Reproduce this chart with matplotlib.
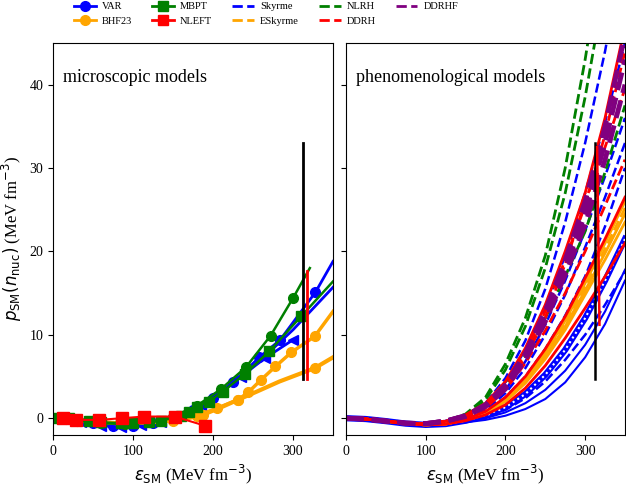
import matplotlib
matplotlib.use('Agg')
from matplotlib import pyplot as plt
from matplotlib.lines import Line2D

# ---- microscopic models (left panel) ----
var_a_e = [5, 25, 50, 75, 100, 125, 150, 175, 200, 225, 258, 284, 328, 350]
var_a_p = [0.0, -0.2, -0.6, -0.9, -0.9, -0.6, 0.0, 1.0, 2.4, 4.3, 7.3, 9.4, 15.1, 18.8]
var_b_e = [10, 35, 60, 85, 110, 135, 160, 185, 210, 235, 265, 300]
var_b_p = [-0.1, -0.5, -0.9, -1.0, -0.8, -0.4, 0.4, 1.6, 3.2, 5.0, 7.2, 9.4]
var_c_e = [0, 30, 60, 90, 120, 150, 180, 210, 240, 270, 300, 350]
var_c_p = [0.0, -0.4, -0.9, -1.0, -0.6, 0.1, 1.3, 3.1, 5.3, 7.9, 10.6, 15.7]

bhf_a_e = [0, 30, 60, 90, 120, 150, 180, 205, 231, 244, 260, 278, 298, 327, 350]
bhf_a_p = [0.0, -0.2, -0.5, -0.6, -0.5, -0.3, 0.3, 1.2, 2.2, 3.1, 4.6, 6.2, 7.9, 9.8, 12.8]
bhf_b_e = [0, 40, 80, 120, 160, 187, 210, 231, 255, 283, 305, 327, 350]
bhf_b_p = [0.0, -0.3, -0.6, -0.5, -0.2, 0.4, 1.3, 2.2, 3.2, 4.4, 5.2, 6.0, 7.3]

mbpt_a_e = [0, 30, 60, 90, 120, 150, 180, 210, 241, 272, 300, 321]
mbpt_a_p = [0.0, -0.3, -0.6, -0.7, -0.5, 0.2, 1.5, 3.5, 6.1, 9.9, 14.4, 18.0]
mbpt_b_e = [0, 20, 45, 60, 85, 100, 120, 135, 160, 170, 180, 195, 212, 240, 270, 310, 350]
mbpt_b_p = [0.0, 0.0, -0.3, -0.5, -0.6, -0.6, -0.5, -0.3, 0.3, 0.8, 1.4, 2.0, 3.2, 5.3, 8.0, 12.2, 16.4]

nleft_e = [13, 29, 58, 86, 114, 152, 190]
nleft_p = [0.0, -0.2, -0.2, 0.0, 0.2, 0.2, -0.9]

# ---- phenomenological models (right panel), common energy grid ----
grid_e = [0, 25, 50, 75, 100, 125, 150, 175, 200, 225, 250, 275, 300, 325, 350]
low_stiff = [0.0, -0.1, -0.35, -0.6, -0.65, -0.35]
low_soft = [0.0, -0.1, -0.35, -0.65, -0.8, -0.7]

nlrh_1 = [0.5, 2.5, 6.5, 12.0, 19.5, 30.0, 43.0, 58.0, 75.0]
nlrh_2 = [0.4, 2.2, 5.8, 11.0, 18.0, 27.0, 38.5, 52.0, 68.0]
nlrh_3 = [0.1, 1.3, 3.8, 7.5, 12.0, 17.0, 22.4, 29.5, 37.5]

sky_1 = [0.3, 1.8, 4.8, 9.3, 15.5, 23.5, 33.0, 44.0, 57.0]
sky_2 = [0.0, 1.0, 3.0, 6.0, 10.0, 14.8, 20.5, 26.5, 33.0]
sky_3 = [-0.1, 0.8, 2.5, 5.0, 8.3, 12.3, 17.0, 23.0, 30.0]
sky_4 = [-0.4, 0.1, 1.0, 2.4, 4.4, 7.0, 10.0, 13.6, 17.6]
sky_5 = [0.2, 1.6, 4.3, 8.2, 13.2, 19.5, 27.0, 35.5, 45.0]
sky_6 = [0.0, 1.1, 3.4, 6.8, 11.2, 16.5, 22.5, 29.0, 36.0]

ddrhf_1 = [0.3, 1.5, 3.8, 7.4, 12.3, 18.0, 24.5, 33.0, 43.0]
ddrhf_2 = [0.3, 1.6, 4.0, 7.8, 12.9, 19.0, 26.0, 35.0, 46.0]
ddrhf_3 = [0.2, 1.4, 3.5, 7.0, 11.6, 17.2, 23.2, 31.0, 40.0]

ddrh_1 = [0.3, 1.6, 4.0, 7.8, 12.8, 19.0, 25.5, 34.0, 44.0]
ddrh_2 = [0.2, 1.4, 3.7, 7.3, 12.0, 18.5, 26.0, 32.5, 39.5]
ddrh_3 = [0.1, 1.2, 3.4, 6.6, 10.5, 15.0, 20.0, 25.5, 31.0]

red_1 = [0.4, 1.8, 4.4, 8.4, 13.6, 20.0, 27.0, 36.0, 47.0]
red_2 = [-0.1, 0.8, 2.5, 5.0, 8.3, 12.2, 16.8, 21.5, 26.5]
red_3 = [-0.3, 0.4, 1.6, 3.6, 6.3, 9.6, 13.2, 17.0, 21.0]

esky_1 = [-0.1, 0.7, 2.3, 4.7, 7.9, 11.7, 16.2, 21.0, 26.0]
esky_2 = [-0.2, 0.6, 2.1, 4.4, 7.4, 11.0, 15.3, 19.8, 24.5]
esky_3 = [-0.2, 0.5, 2.0, 4.2, 7.1, 10.6, 14.8, 19.0, 23.5]
esky_4 = [-0.1, 0.6, 2.2, 4.5, 7.6, 11.3, 15.7, 20.3, 25.2]

blue_1 = [-0.5, -0.2, 0.3, 1.1, 2.3, 4.3, 7.3, 11.3, 16.5]
blue_2 = [-0.4, 0.0, 0.7, 1.8, 3.4, 5.7, 8.8, 12.8, 17.8]
blue_band = [-0.3, 0.3, 1.3, 2.9, 5.2, 8.2, 12.0, 16.5, 21.5]

# vertical bars (e, p_low, p_high)
bar_left_black = (313, 4.7, 33.0)
bar_left_red = (318, 4.7, 17.6)
bar_right_black = (312, 4.7, 33.0)
bar_right_red = ([315, 318], [32.5, 11.2])

plt.rcParams['font.family'] = ['Liberation Serif', 'DejaVu Sans']
plt.rcParams['mathtext.fontset'] = 'dejavusans'

fig = plt.figure(figsize=(6.26, 4.87), dpi=100)
ax1 = fig.add_axes([0.0847, 0.107, 0.4473, 0.805])
ax2 = fig.add_axes([0.5527, 0.107, 0.4457, 0.805], sharey=ax1)

blue, orange, green, red, purple = 'blue', 'orange', 'green', 'red', 'purple'

# left panel
ax1.plot(var_a_e, var_a_p, '-o', color=blue, lw=2, ms=7, markevery=slice(0, -1))
ax1.plot(var_b_e, var_b_p, '-<', color=blue, lw=2, ms=7)
ax1.plot(var_c_e, var_c_p, '-', color=blue, lw=2)
ax1.plot(bhf_a_e, bhf_a_p, '-o', color=orange, lw=2.5, ms=7, markevery=slice(0, -1))
ax1.plot(bhf_b_e, bhf_b_p, '-o', color=orange, lw=3, ms=7, markevery=[5, 7, 11])
ax1.plot(mbpt_a_e, mbpt_a_p, '-o', color=green, lw=1.8, ms=7, markevery=slice(0, -1))
ax1.plot(mbpt_b_e, mbpt_b_p, '-s', color=green, lw=1.8, ms=7, markevery=slice(0, -1))
ax1.plot(nleft_e, nleft_p, '-s', color=red, lw=1.5, ms=8)

e, lo, hi = bar_left_black
ax1.plot([e, e], [lo, hi], color='black', lw=2)
e, lo, hi = bar_left_red
ax1.plot([e, e], [lo, hi], color=red, lw=2)

ax1.text(12, 40.3, 'microscopic models', fontsize=13)

# right panel
ax2.plot(grid_e, low_soft + blue_1, '-', color=blue, lw=1.5)
ax2.plot(grid_e, low_soft + blue_2, '-', color=blue, lw=1.5)
ax2.plot(grid_e, low_soft + blue_band, '-', color=blue, lw=4.5)
ax2.plot(grid_e, low_soft + blue_band, ':', color='white', lw=1.5)
for p in [sky_1, sky_2, sky_3, sky_4, sky_5, sky_6]:
    ax2.plot(grid_e, (low_stiff if p[0] >= 0 else low_soft) + p, '--', color=blue, lw=1.8)
for p in [esky_1, esky_2, esky_3]:
    ax2.plot(grid_e, low_soft + p, '-', color=orange, lw=2)
ax2.plot(grid_e, low_soft + esky_4, '--', color=orange, lw=2)
for p in [nlrh_1, nlrh_2, nlrh_3]:
    ax2.plot(grid_e, low_stiff + p, '--', color=green, lw=2)
for p in [red_1, red_2, red_3]:
    ax2.plot(grid_e, (low_stiff if p[0] >= 0 else low_soft) + p, '-', color=red, lw=2)
for p in [ddrh_1, ddrh_2, ddrh_3]:
    ax2.plot(grid_e, low_stiff + p, '--', color=red, lw=2)
for p in [ddrhf_1, ddrhf_2, ddrhf_3]:
    ax2.plot(grid_e, low_stiff + p, '--', color=purple, lw=3.5)

e, lo, hi = bar_right_black
ax2.plot([e, e], [lo, hi], color='black', lw=1.8)
ax2.plot(bar_right_red[0], bar_right_red[1], color=red, lw=1.8)

ax2.text(12, 40.3, 'phenomenological models', fontsize=13)

for ax in (ax1, ax2):
    ax.set_xlim(0, 350)
    ax.set_xticks([0, 100, 200, 300])
    ax.tick_params(labelsize=10)
    ax.set_xlabel(r'$\varepsilon_{\rm SM}$ (MeV fm$^{-3}$)', fontsize=12)
ax1.set_ylim(-2, 45)
ax1.set_yticks([0, 10, 20, 30, 40])
ax2.tick_params(labelleft=False)
ax1.set_ylabel(r'$p_{\rm SM}(n_{\rm nuc})$ (MeV fm$^{-3}$)', fontsize=12)

handles = [
    Line2D([], [], color=blue, marker='o', lw=2, ms=7, label='VAR'),
    Line2D([], [], color=orange, marker='o', lw=2, ms=7, label='BHF23'),
    Line2D([], [], color=green, marker='s', lw=2, ms=7, label='MBPT'),
    Line2D([], [], color=red, marker='s', lw=2, ms=7, label='NLEFT'),
    Line2D([], [], color=blue, ls='--', lw=2, label='Skyrme'),
    Line2D([], [], color=orange, ls='--', lw=2, label='ESkyrme'),
    Line2D([], [], color=green, ls='--', lw=2, label='NLRH'),
    Line2D([], [], color=red, ls='--', lw=2, label='DDRH'),
    Line2D([], [], color=purple, ls='--', lw=2, label='DDRHF'),
]
fig.legend(handles=handles, ncol=5, loc='upper center', bbox_to_anchor=(0.425, 1.015),
           frameon=False, fontsize=7.5, columnspacing=1.9, handletextpad=0.6,
           handlelength=2.1, labelspacing=0.5)

fig.savefig('out.png', dpi=100)
